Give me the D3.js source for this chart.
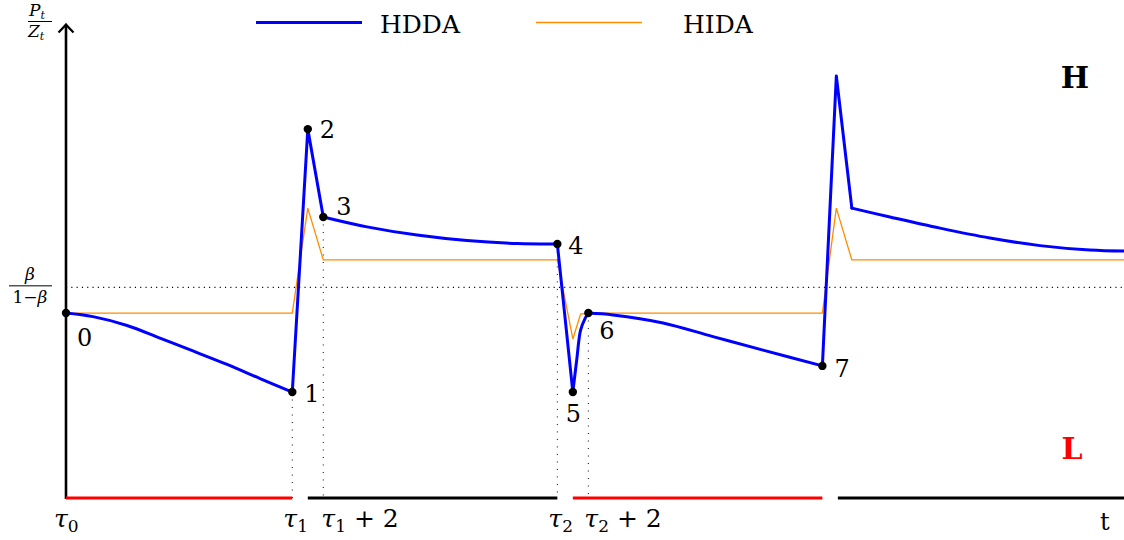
<!DOCTYPE html>
<html>
<head>
<meta charset="utf-8">
<script src="https://cdn.jsdelivr.net/npm/d3@7"></script>
<style>
  body { margin: 0; background: #fff; }
</style>
</head>
<body>
<div id="chart"></div>
<script>
// time values (tau0 = 0)
const TAU1 = 14.6;
const TAU2 = 31.7;
const T7 = 48.8;
const T_END = 68.26;

// HDDA path, in pieces: smooth stretches and straight jumps (t, value) - value 1 = beta/(1-beta)
const hddaPieces = [
  {smooth: true,  t: [0, 1.74, 3.94, 6.06, 8.19, 10.39, 12.52, 14.6], v: [0.878, 0.861, 0.819, 0.759, 0.698, 0.634, 0.567, 0.503]},
  {smooth: false, t: [14.6, 15.6, 16.6], v: [0.503, 1.751, 1.334]},
  {smooth: true,  t: [16.6, 19.42, 22.65, 25.87, 29.1, 31.7], v: [1.334, 1.287, 1.248, 1.222, 1.208, 1.206]},
  {smooth: false, t: [31.7, 32.7], v: [1.206, 0.503]},
  {smooth: true,  t: [32.7, 32.95, 33.2, 33.5, 33.7], v: [0.503, 0.655, 0.797, 0.854, 0.878]},
  {smooth: true,  t: [33.7, 35.29, 38.52, 41.74, 44.97, 48.8], v: [0.878, 0.869, 0.831, 0.766, 0.702, 0.627]},
  {smooth: false, t: [48.8, 49.7, 50.7], v: [0.627, 2.003, 1.376]},
  {smooth: true,  t: [50.7, 53.16, 56.39, 59.61, 62.84, 66.06, 68.26], v: [1.376, 1.334, 1.281, 1.234, 1.198, 1.177, 1.172]}
];

// HIDA path
const hidaT = [0, 14.6, 15.6, 16.6, 31.7, 32.7, 33.2, 33.7, 48.8, 49.7, 50.7, 68.26];
const hidaV = [0.878, 0.878, 1.376, 1.13, 1.13, 0.755, 0.873, 0.878, 0.878, 1.376, 1.13, 1.13];

// marked points 0..7
const markLabels = ["0", "1", "2", "3", "4", "5", "6", "7"];
const markT = [0, 14.6, 15.6, 16.6, 31.7, 32.7, 33.7, 48.8];
const markV = [0.878, 0.503, 1.751, 1.334, 1.206, 0.503, 0.878, 0.627];

// regime bar along the time axis
const regimeStart = [0, 15.6, 32.7, 49.8];
const regimeEnd = [14.6, 31.7, 48.8, 68.26];
const regimeName = ["L", "H", "L", "H"];

const W = 1124, H = 540;
const FONT = "'DejaVu Serif', 'Liberation Serif', serif";
const svg = d3.select("#chart").append("svg").attr("width", W).attr("height", H)
  .style("font-family", FONT);

const x = d3.scaleLinear().domain([0, T_END]).range([66, 1124]);
const y = d3.scaleLinear().domain([0, 2.25]).range([498, 24]);

const hida = hidaT.map((t, i) => ({t, v: hidaV[i]}));
const line = d3.line().x(d => x(d.t)).y(d => y(d.v));
const smoothLine = d3.line().x(d => x(d.t)).y(d => y(d.v)).curve(d3.curveCatmullRom.alpha(0.5));

// threshold beta/(1-beta)
svg.append("line")
  .attr("x1", x(0)).attr("x2", x(T_END))
  .attr("y1", y(1)).attr("y2", y(1))
  .attr("stroke", "#000").attr("stroke-width", 1.1)
  .attr("stroke-dasharray", "1.1,4.2");

// vertical dotted guides
[[TAU1, 0.503], [TAU1 + 2, 1.334], [TAU2, 1.206], [TAU2 + 2, 0.878]].forEach(g => {
  svg.append("line")
    .attr("x1", x(g[0])).attr("x2", x(g[0]))
    .attr("y1", y(g[1])).attr("y2", y(0))
    .attr("stroke", "#000").attr("stroke-width", 1)
    .attr("stroke-dasharray", "1,6.5");
});

// y axis with arrow
svg.append("line")
  .attr("x1", x(0)).attr("x2", x(0)).attr("y1", y(0) + 1).attr("y2", 25)
  .attr("stroke", "#000").attr("stroke-width", 2.6);
svg.append("path")
  .attr("d", `M${x(0) - 7.5},32.5 Q${x(0) - 3},28 ${x(0)},24.5 Q${x(0) + 3},28 ${x(0) + 7.5},32.5`)
  .attr("fill", "none").attr("stroke", "#000").attr("stroke-width", 2.2);

// regime segments on time axis
regimeStart.forEach((s, i) => {
  svg.append("line")
    .attr("x1", x(s)).attr("x2", x(regimeEnd[i]))
    .attr("y1", y(0)).attr("y2", y(0))
    .attr("stroke", regimeName[i] == "L" ? "#ff0000" : "#000")
    .attr("stroke-width", 3);
});

// series
svg.append("path").datum(hida).attr("d", line)
  .attr("fill", "none").attr("stroke", "#ff8c00").attr("stroke-width", 1.3);
hddaPieces.forEach(p => {
  const pts = p.t.map((t, i) => ({t, v: p.v[i]}));
  svg.append("path").datum(pts).attr("d", p.smooth ? smoothLine : line)
    .attr("fill", "none").attr("stroke", "#0000ff").attr("stroke-width", 3)
    .attr("stroke-linejoin", "round").attr("stroke-linecap", "round");
});

// marked points
const labelOff = [[11, 33], [12, 10], [12, 9], [13, -2], [11, 10], [-7, 30], [11, 26], [12, 11]];
markT.forEach((t, i) => {
  svg.append("circle").attr("cx", x(t)).attr("cy", y(markV[i])).attr("r", 4.2).attr("fill", "#000");
  svg.append("text")
    .attr("x", x(t) + labelOff[i][0]).attr("y", y(markV[i]) + labelOff[i][1])
    .attr("font-size", 24).text(markLabels[i]);
});

// time tick labels
function tauLabel(t, sub, extra, dx) {
  const tx = svg.append("text").attr("x", x(t) + dx).attr("y", 527).attr("font-size", 25);
  tx.append("tspan").attr("font-style", "italic").text("τ");
  tx.append("tspan").attr("font-size", 17).attr("dy", 5).text(sub);
  if (extra) tx.append("tspan").attr("dy", -5).text(" + 2");
}
tauLabel(0, "0", false, -12);
tauLabel(TAU1, "1", false, -9);
tauLabel(TAU1 + 2, "1", true, -2);
tauLabel(TAU2, "2", false, -9);
tauLabel(TAU2 + 2, "2", true, -4);
svg.append("text").attr("x", 1100).attr("y", 530).attr("font-size", 24).text("t");

// y label P_t / Z_t
const pt = svg.append("text").attr("x", 29).attr("y", 16).attr("font-size", 17);
pt.append("tspan").attr("font-style", "italic").text("P");
pt.append("tspan").attr("font-size", 11).attr("dy", 3).attr("font-style", "italic").text("t");
svg.append("line").attr("x1", 28).attr("x2", 52).attr("y1", 21.5).attr("y2", 21.5).attr("stroke", "#000").attr("stroke-width", 1);
const zt = svg.append("text").attr("x", 28).attr("y", 37).attr("font-size", 17);
zt.append("tspan").attr("font-style", "italic").text("Z");
zt.append("tspan").attr("font-size", 11).attr("dy", 3).attr("font-style", "italic").text("t");

// threshold label beta/(1-beta)
svg.append("text").attr("x", 30).attr("y", 280).attr("font-size", 17).attr("text-anchor", "middle")
  .attr("font-style", "italic").text("β");
svg.append("line").attr("x1", 9).attr("x2", 52).attr("y1", y(1) - 1.5).attr("y2", y(1) - 1.5)
  .attr("stroke", "#000").attr("stroke-width", 1);
const ob = svg.append("text").attr("x", 30).attr("y", 303).attr("font-size", 17).attr("text-anchor", "middle");
ob.append("tspan").text("1−");
ob.append("tspan").attr("font-style", "italic").text("β");

// regime letters
svg.append("text").attr("x", 1075).attr("y", 88).attr("font-size", 30).attr("font-weight", "bold")
  .attr("text-anchor", "middle").attr("fill", "#000").text("H");
svg.append("text").attr("x", 1072).attr("y", 459).attr("font-size", 30).attr("font-weight", "bold")
  .attr("text-anchor", "middle").attr("fill", "#ff0000").text("L");

// legend
const legName = ["HDDA", "HIDA"];
const legColor = ["#0000ff", "#ff8c00"];
const legWidth = [3, 1.5];
const legLineX = [256, 536];
const legTextX = [380, 683];
legName.forEach((n, i) => {
  svg.append("line").attr("x1", legLineX[i]).attr("x2", legLineX[i] + 106).attr("y1", 22.5).attr("y2", 22.5)
    .attr("stroke", legColor[i]).attr("stroke-width", legWidth[i]);
  svg.append("text").attr("x", legTextX[i]).attr("y", 33).attr("font-size", 25).text(n);
});
</script>
</body>
</html>
